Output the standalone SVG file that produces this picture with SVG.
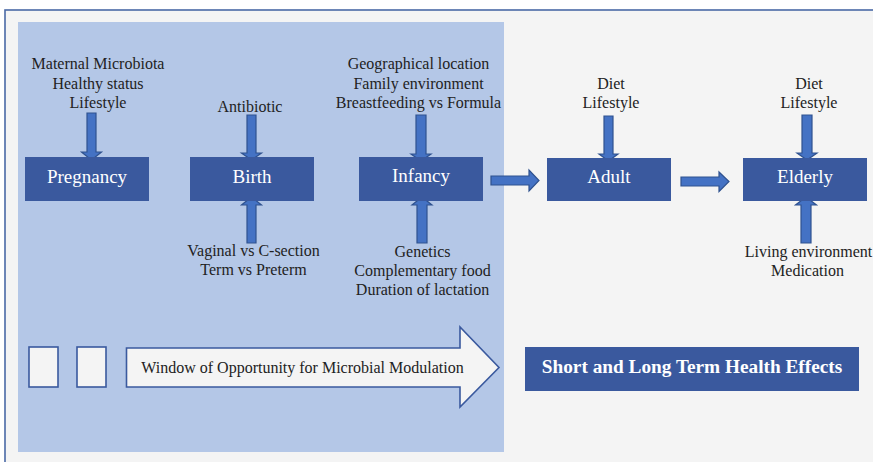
<svg xmlns="http://www.w3.org/2000/svg" width="873" height="462" viewBox="0 0 873 462">
<style>
.box{fill:#3a599e}
.bt{font-family:"Liberation Serif","Times New Roman",serif;font-size:19px;fill:#ffffff;text-anchor:middle}
.lb{font-family:"Liberation Serif","Times New Roman",serif;font-size:16px;fill:#222222;text-anchor:middle}
.arr{fill:#4472c4;stroke:#2f528f;stroke-width:1.2}
.sq{fill:#f4f4f4;stroke:#3a599e;stroke-width:1.6}
</style>
<rect x="0" y="0" width="873" height="462" fill="#ffffff"/>
<rect x="5" y="10" width="880" height="470" fill="#f4f4f4" stroke="#4a69a6" stroke-width="1.6"/>
<rect id="window-panel" x="18" y="22" width="486" height="430" fill="#b4c7e7"/>

<g id="connectors">
  <path class="arr" d="M87,113 H96 V152 H101.5 L91.5,160 L81.5,152 H87 Z"/>
  <path class="arr" d="M247,115 H256 V153 H261.5 L251.5,160 L241.5,153 H247 Z"/>
  <path class="arr" d="M416,115 H426 V154 H431 L421,161 L411,154 H416 Z"/>
  <path class="arr" d="M604,116 H613 V154 H618 L608.5,161 L599,154 H604 Z"/>
  <path class="arr" d="M802,115 H812 V153 H817 L807,160 L797,153 H802 Z"/>
  <path class="arr" d="M247,243 H256 V205 H261.5 L251.5,197 L241.5,205 H247 Z"/>
  <path class="arr" d="M417,243 H427 V205 H432 L422,197 L412,205 H417 Z"/>
  <path class="arr" d="M801,243 H811 V205 H816.5 L806,197 L795.5,205 H801 Z"/>
  <path class="arr" d="M491,176 H529 V170 L539,180.5 L529,191 V185 H491 Z"/>
  <path class="arr" d="M681,177 H719 V172 L729,181.5 L719,191.5 V186 H681 Z"/>
</g>

<g id="pregnancy">
  <rect class="box" x="25" y="157" width="124" height="44"/>
  <text class="bt" x="87" y="183">Pregnancy</text>
</g>
<g id="birth">
  <rect class="box" x="190" y="157" width="124" height="44"/>
  <text class="bt" x="252" y="183">Birth</text>
</g>
<g id="infancy">
  <rect class="box" x="359" y="157" width="124" height="44"/>
  <text class="bt" x="421" y="182">Infancy</text>
</g>
<g id="adult">
  <rect class="box" x="547" y="158" width="124" height="43"/>
  <text class="bt" x="609" y="183">Adult</text>
</g>
<g id="elderly">
  <rect class="box" x="743" y="158" width="124" height="43"/>
  <text class="bt" x="805" y="183">Elderly</text>
</g>

<g id="pregnancy-factors">
  <text class="lb" x="98" y="69">Maternal Microbiota</text>
  <text class="lb" x="98" y="88.5">Healthy status</text>
  <text class="lb" x="98" y="108">Lifestyle</text>
</g>
<g id="birth-factors-top">
  <text class="lb" x="250" y="112">Antibiotic</text>
</g>
<g id="birth-factors-bottom">
  <text class="lb" x="253.5" y="256">Vaginal vs C-section</text>
  <text class="lb" x="253.5" y="274.5">Term vs Preterm</text>
</g>
<g id="infancy-factors-top">
  <text class="lb" x="418.5" y="69">Geographical location</text>
  <text class="lb" x="418.5" y="88.5">Family environment</text>
  <text class="lb" x="418.5" y="108">Breastfeeding vs Formula</text>
</g>
<g id="infancy-factors-bottom">
  <text class="lb" x="422.5" y="257">Genetics</text>
  <text class="lb" x="422.5" y="276">Complementary food</text>
  <text class="lb" x="422.5" y="295">Duration of lactation</text>
</g>
<g id="adult-factors">
  <text class="lb" x="611" y="89">Diet</text>
  <text class="lb" x="611" y="108">Lifestyle</text>
</g>
<g id="elderly-factors-top">
  <text class="lb" x="809" y="89">Diet</text>
  <text class="lb" x="809" y="108">Lifestyle</text>
</g>
<g id="elderly-factors-bottom">
  <text class="lb" x="808.5" y="257">Living environment</text>
  <text class="lb" x="807.5" y="276">Medication</text>
</g>

<g id="legend-squares">
  <rect class="sq" x="29" y="347" width="29" height="40"/>
  <rect class="sq" x="77" y="347" width="29" height="40"/>
</g>
<g id="window-arrow">
  <path d="M126.5,348 H460 V327 L499,367.5 L460,407 V387 H126.5 Z" fill="#f4f4f4" stroke="#3a599e" stroke-width="1.6"/>
  <text class="lb" x="302.5" y="373">Window of Opportunity for Microbial Modulation</text>
</g>
<g id="health-effects">
  <rect class="box" x="525" y="347" width="334" height="44"/>
  <text x="692" y="372.5" style="font-family:'Liberation Serif','Times New Roman',serif;font-size:19.3px;font-weight:bold;fill:#ffffff;text-anchor:middle">Short and Long Term Health Effects</text>
</g>
</svg>
